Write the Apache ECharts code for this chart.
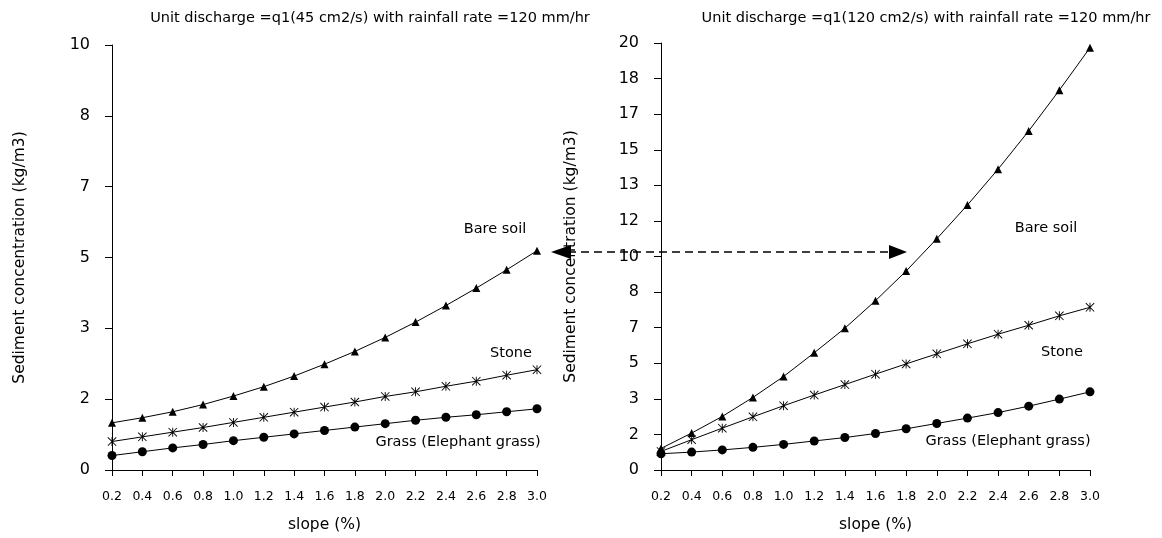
<!DOCTYPE html>
<html>
<head>
<meta charset="utf-8">
<script src="https://cdn.jsdelivr.net/npm/echarts@6/dist/echarts.min.js"></script>
<style>
html,body{margin:0;padding:0;background:#fff;}
#chart{width:1162px;height:538px;}
</style>
</head>
<body>
<div id="chart"></div>
<script>
// ---- data ----
const slopes = ['0.2','0.4','0.6','0.8','1.0','1.2','1.4','1.6','1.8','2.0','2.2','2.4','2.6','2.8','3.0'];

// q1 = 45 cm2/s
const bareSoilQ45 = [1.11,1.23,1.37,1.54,1.74,1.96,2.21,2.49,2.79,3.12,3.48,3.87,4.28,4.71,5.16];
const stoneQ45    = [0.67,0.78,0.89,1.00,1.12,1.24,1.36,1.48,1.60,1.73,1.84,1.97,2.09,2.23,2.36];
const grassQ45    = [0.34,0.43,0.52,0.60,0.69,0.77,0.85,0.93,1.01,1.09,1.17,1.24,1.30,1.37,1.44];

// q1 = 120 cm2/s
const bareSoilQ120 = [1.01,1.73,2.51,3.40,4.38,5.49,6.64,7.93,9.32,10.83,12.41,14.09,15.88,17.79,19.78];
const stoneQ120    = [0.87,1.42,1.96,2.49,3.01,3.51,4.00,4.49,4.97,5.44,5.91,6.36,6.78,7.22,7.62];
const grassQ120    = [0.76,0.84,0.94,1.06,1.20,1.36,1.52,1.71,1.93,2.18,2.43,2.69,2.99,3.32,3.66];

const leftYTickLabels  = ['0','2','3','5','7','8','10'];
const rightYTickLabels = ['0','2','3','5','7','8','10','12','13','15','17','18','20'];

const leftTitle  = 'Unit discharge =q1(45 cm2/s) with rainfall rate =120 mm/hr';
const rightTitle = 'Unit discharge =q1(120 cm2/s) with rainfall rate =120 mm/hr';
const yName = 'Sediment concentration (kg/m3)';
const xName = 'slope (%)';

// ---- chart ----
const FONT = 'DejaVu Sans';
const starPath = 'path://M4.5 0L5.5 0L5.5 10L4.5 10Z M0 0.7L0.7 0L10 9.3L9.3 10Z M9.3 0L10 0.7L0.7 10L0 9.3Z';

function xAxis(grid){
  return {
    type:'category', gridIndex:grid, data:slopes, boundaryGap:false,
    name:xName, nameLocation:'middle', nameGap:47,
    nameTextStyle:{fontFamily:FONT,fontSize:15.5,color:'#000'},
    axisLine:{lineStyle:{color:'#000',width:1}},
    axisTick:{show:true,length:6,lineStyle:{color:'#000'}},
    axisLabel:{fontFamily:FONT,fontSize:12.5,color:'#000',margin:20,interval:0},
    splitLine:{show:false}
  };
}
function yAxis(grid,max,labels,gap){
  return {
    type:'value', gridIndex:grid, min:0, max:max, interval:max/(labels.length-1),
    name:yName, nameLocation:'middle', nameGap:gap, nameRotate:90,
    nameTextStyle:{fontFamily:FONT,fontSize:15.5,color:'#000'},
    axisLine:{show:true,lineStyle:{color:'#000',width:1}},
    axisTick:{show:true,length:7,lineStyle:{color:'#000'}},
    axisLabel:{fontFamily:FONT,fontSize:16,color:'#000',margin:22,
      formatter:function(v){ const i=Math.round(v/(max/(labels.length-1))); return labels[i]; }},
    splitLine:{show:false}
  };
}
function line(name,data,grid,symbol,size){
  return {
    name:name,type:'line',xAxisIndex:grid,yAxisIndex:grid,data:data,
    symbol:symbol,symbolSize:size,showAllSymbol:true,
    lineStyle:{color:'#000',width:1},
    itemStyle:{color:'#000',borderWidth:0},
    emphasis:{disabled:true},animation:false
  };
}
function txt(x,y,s,size){
  return {type:'text',x:x,y:y,style:{text:s,fill:'#000',font:size+'px "'+FONT+'"',textAlign:'center',textVerticalAlign:'middle'}};
}

const chart = echarts.init(document.getElementById('chart'),null,{renderer:'canvas'});
chart.setOption({
  backgroundColor:'#fff',
  animation:false,
  grid:[
    {left:112,top:45,width:425,height:426},
    {left:661,top:43,width:429,height:427.5}
  ],
  xAxis:[xAxis(0),xAxis(1)],
  yAxis:[yAxis(0,10,leftYTickLabels,84),yAxis(1,20,rightYTickLabels,82)],
  series:[
    line('Bare soil',bareSoilQ45,0,'triangle',8),
    line('Stone',stoneQ45,0,starPath,9),
    line('Grass (Elephant grass)',grassQ45,0,'circle',9),
    line('Bare soil',bareSoilQ120,1,'triangle',8),
    line('Stone',stoneQ120,1,starPath,9),
    line('Grass (Elephant grass)',grassQ120,1,'circle',9)
  ],
  graphic:[
    txt(370,18,leftTitle,14.5),
    txt(926,18,rightTitle,14.5),
    txt(495,229,'Bare soil',14.5),
    txt(511,353,'Stone',14.5),
    txt(458,442,'Grass (Elephant grass)',14.5),
    txt(1046,228,'Bare soil',14.5),
    txt(1062,352,'Stone',14.5),
    txt(1008,441,'Grass (Elephant grass)',14.5),
    {type:'line',shape:{x1:568,y1:252,x2:892,y2:252},style:{stroke:'#000',lineWidth:1.5,lineDash:[8,5]}},
    {type:'polygon',shape:{points:[[551,252],[571,245],[571,259]]},style:{fill:'#000'}},
    {type:'polygon',shape:{points:[[907,252],[889,245],[889,259]]},style:{fill:'#000'}}
  ]
});
</script>
</body>
</html>
